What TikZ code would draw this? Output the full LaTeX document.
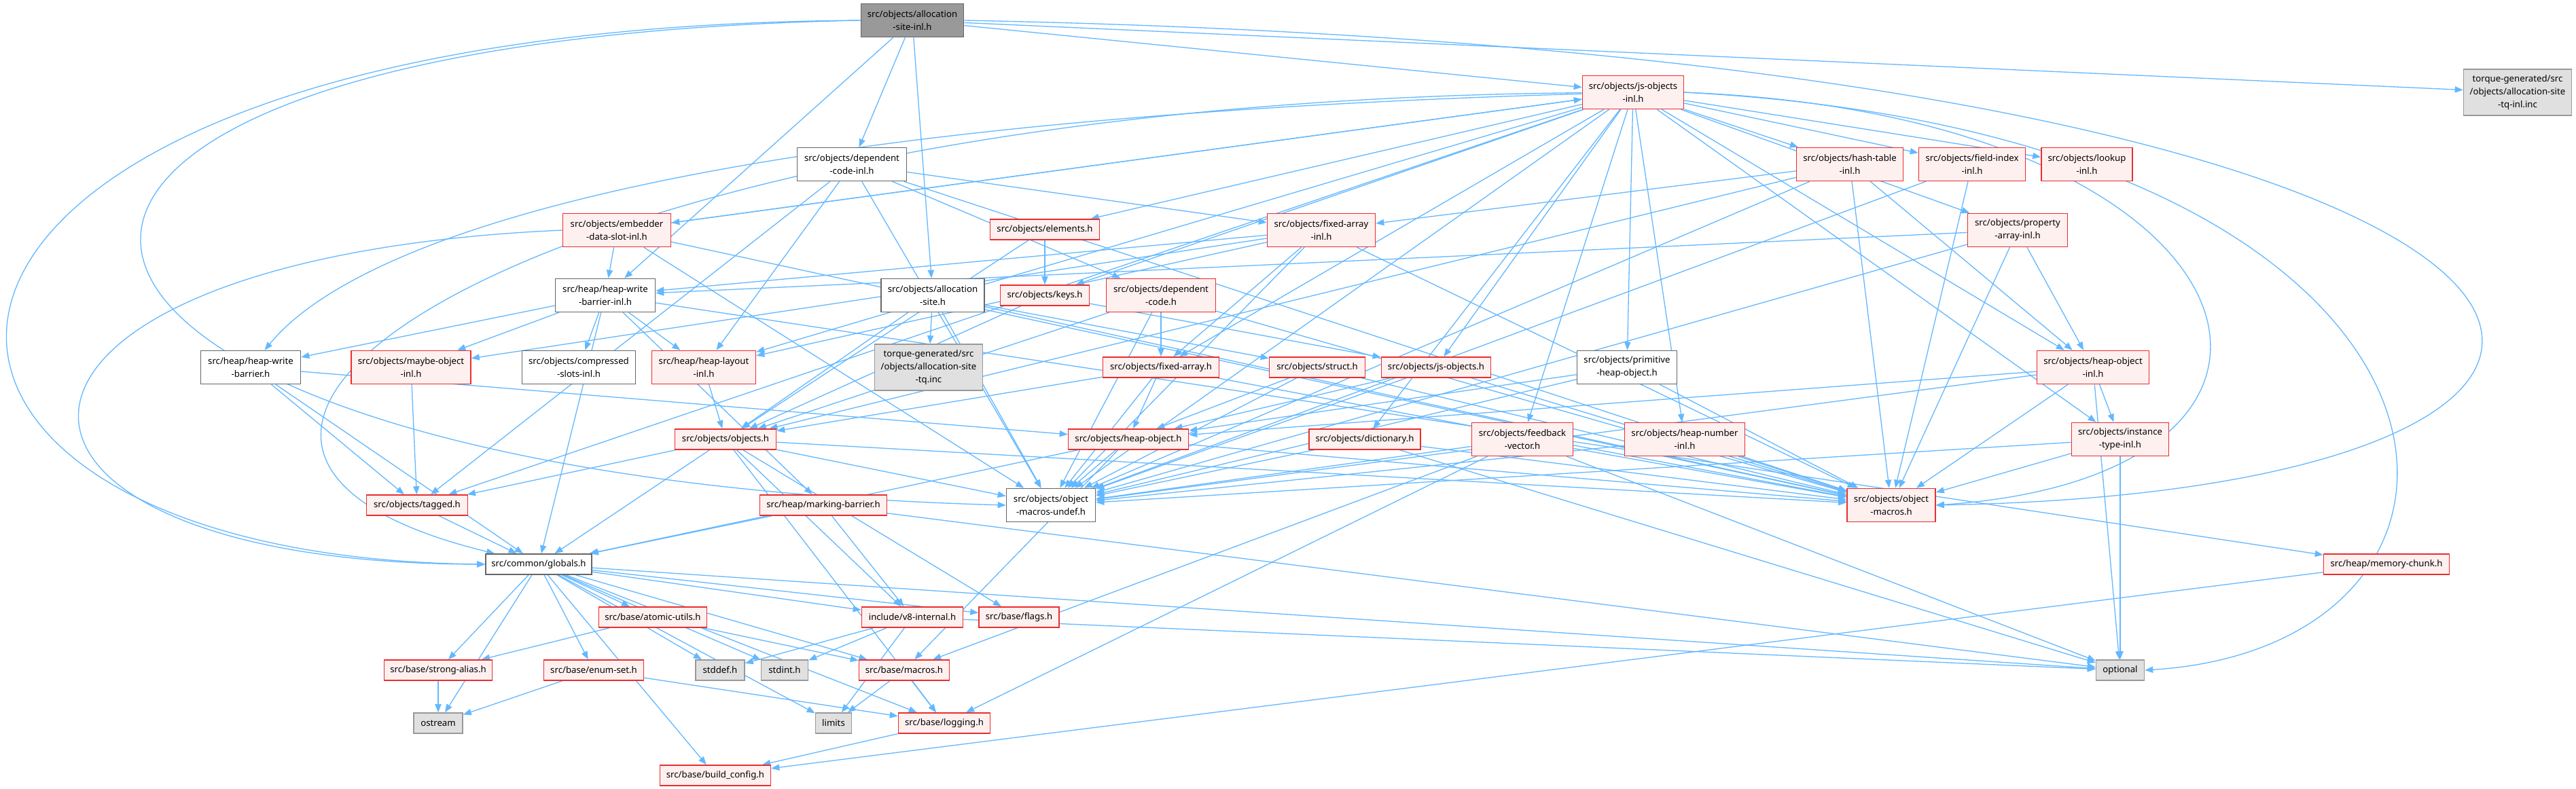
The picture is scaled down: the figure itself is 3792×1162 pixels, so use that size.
\documentclass[tikz,border=0pt]{standalone}
\usepackage{fontspec}
\setmainfont{Noto Sans}
\usetikzlibrary{arrows.meta,backgrounds}
\definecolor{edgeblue}{RGB}{99,184,255}
\definecolor{redline}{RGB}{235,45,45}
\definecolor{redfill}{RGB}{255,240,240}
\definecolor{rootfill}{RGB}{153,153,153}
\definecolor{greyline}{RGB}{102,102,102}
\definecolor{extfill}{RGB}{224,224,224}
\definecolor{extline}{RGB}{153,153,153}

\begin{document}
\begin{tikzpicture}[
  x=0.5pt, y=-0.5pt,
  font=\fontsize{6.6}{9.5}\selectfont,
  n/.style={draw, line width=0.8pt, align=center, inner xsep=2pt, inner ysep=0pt},
  l1/.style={minimum height=15pt},
  l2/.style={minimum height=24.5pt},
  l3/.style={minimum height=34pt},
  top/.style={n, draw=greyline, fill=rootfill},
  wt/.style={n, draw=greyline, fill=white},
  rd/.style={n, draw=redline, fill=redfill},
  ext/.style={n, draw=extline, fill=extfill},
  a/.style={-{Triangle[length=6pt,width=4.6pt]}, line width=0.65pt, draw=edgeblue}
]
\useasboundingbox (0,0) rectangle (3792,1162);

% top rows
\node[top, l2, minimum width=75.5pt] (root) at (1343,30) {src/objects/allocation\\-site-inl.h};
\node[rd, l2, minimum width=74.5pt] (jsoinl) at (2404,136) {src/objects/js-objects\\-inl.h};
\node[ext, l3, minimum width=79.5pt] (tqinl) at (3706,136) {torque-generated/src\\/objects/allocation-site\\-tq-inl.inc};
\node[wt, l2, minimum width=80.5pt] (depinl) at (1254,242) {src/objects/dependent\\-code-inl.h};
\node[rd, l2, minimum width=78.5pt] (hashinl) at (2723,242) {src/objects/hash-table\\-inl.h};
\node[rd, l2, minimum width=78.5pt] (fieldinl) at (2903,242) {src/objects/field-index\\-inl.h};
\node[rd, l2, minimum width=67pt] (lookupinl) at (3072,242) {src/objects/lookup\\-inl.h};
\node[rd, l2, minimum width=79.5pt] (edsinl) at (908,339) {src/objects/embedder\\-data-slot-inl.h};
\node[rd, l1, minimum width=80.5pt] (elements) at (1538,338) {src/objects/elements.h};
\node[rd, l2, minimum width=79.5pt] (fainl) at (1945,339) {src/objects/fixed-array\\-inl.h};
\node[rd, l2, minimum width=73.5pt] (painl) at (2970,339) {src/objects/property\\-array-inl.h};
\node[wt, l2, minimum width=73.5pt] (hwbinl) at (891,435) {src/heap/heap-write\\-barrier-inl.h};
\node[wt, l2, minimum width=76pt] (asite) at (1373,435) {src/objects/allocation\\-site.h};
\node[rd, l1, minimum width=65.5pt] (keys) at (1538,435) {src/objects/keys.h};
\node[rd, l2, minimum width=80.5pt] (depcode) at (1709,435) {src/objects/dependent\\-code.h};

% middle rows
\node[wt, l2, minimum width=73.5pt] (hwb) at (369,541) {src/heap/heap-write\\-barrier.h};
\node[rd, l2, minimum width=88pt] (moinl) at (605,541) {src/objects/maybe-object\\-inl.h};
\node[wt, l2, minimum width=83.5pt] (csinl) at (852,541) {src/objects/compressed\\-slots-inl.h};
\node[rd, l2, minimum width=76.5pt] (hlinl) at (1036,541) {src/heap/heap-layout\\-inl.h};
\node[ext, l3, minimum width=79.5pt] (tqinc) at (1367,541) {torque-generated/src\\/objects/allocation-site\\-tq.inc};
\node[rd, l1, minimum width=85.5pt] (fa) at (1709,541) {src/objects/fixed-array.h};
\node[rd, l1, minimum width=70.5pt] (struct) at (1939,541) {src/objects/struct.h};
\node[rd, l1, minimum width=80.5pt] (jso) at (2114,541) {src/objects/js-objects.h};
\node[wt, l2, minimum width=73.5pt] (phobj) at (2395,541) {src/objects/primitive\\-heap-object.h};
\node[rd, l2, minimum width=82.5pt] (hoinl) at (3081,541) {src/objects/heap-object\\-inl.h};
\node[rd, l1, minimum width=74.5pt] (objects) at (1068,647) {src/objects/objects.h};
\node[rd, l1, minimum width=88.5pt] (hobj) at (1661,647) {src/objects/heap-object.h};
\node[rd, l1, minimum width=82pt] (dict) at (2009,647) {src/objects/dictionary.h};
\node[rd, l2, minimum width=74.5pt] (fbv) at (2241,647) {src/objects/feedback\\-vector.h};
\node[rd, l2, minimum width=88.5pt] (hninl) at (2480,647) {src/objects/heap-number\\-inl.h};
\node[rd, l2, minimum width=71.5pt] (itinl) at (3121,647) {src/objects/instance\\-type-inl.h};
\node[rd, l1, minimum width=74.5pt] (tagged) at (614,744) {src/objects/tagged.h};
\node[rd, l1, minimum width=93.5pt] (mbar) at (1212,744) {src/heap/marking-barrier.h};
\node[wt, l2, minimum width=65.5pt] (undef) at (1547,744) {src/objects/object\\-macros-undef.h};
\node[rd, l2, minimum width=65pt] (omac) at (2784,744) {src/objects/object\\-macros.h};

% base rows
\node[wt, l1, minimum width=78pt] (globals) at (793,831) {src/common/globals.h};
\node[rd, l1, minimum width=92.5pt] (mchunk) at (3513,831) {src/heap/memory-chunk.h};
\node[rd, l1, minimum width=79.5pt] (atomic) at (961,909) {src/base/atomic-utils.h};
\node[rd, l1, minimum width=74.5pt] (v8int) at (1343,909) {include/v8-internal.h};
\node[rd, l1, minimum width=59pt] (flags) at (1500,909) {src/base/flags.h};
\node[rd, l1, minimum width=79.5pt] (salias) at (645,987) {src/base/strong-alias.h};
\node[rd, l1, minimum width=73.5pt] (enumset) at (874,987) {src/base/enum-set.h};
\node[ext, l1, minimum width=36pt] (stddef) at (1060,987) {stddef.h};
\node[ext, l1, minimum width=34.5pt] (stdint) at (1155,987) {stdint.h};
\node[rd, l1, minimum width=66.5pt] (macros) at (1331,987) {src/base/macros.h};
\node[ext, l1, minimum width=35.5pt] (optional) at (3121,987) {optional};
\node[ext, l1, minimum width=36pt] (ostream) at (645,1065) {ostream};
\node[ext, l1, minimum width=26.5pt] (limits) at (1227,1065) {limits};
\node[rd, l1, minimum width=67.5pt] (logging) at (1390,1065) {src/base/logging.h};
\node[rd, l1, minimum width=81.5pt] (buildcfg) at (1053,1142) {src/base/build\_config.h};

\begin{scope}[on background layer]
\fill[white] (0,0) rectangle (3792,1162);
% root
\draw[a] (root.west) .. controls (-300,40) and (-300,820) .. (globals.west);
\draw[a] (root.west) .. controls (-250,60) and (-100,700) .. (undef.west);
\draw[a] (root) -- (hwbinl);
\draw[a] (root) -- (depinl);
\draw[a] (root) -- (asite);
\draw[a] (root) -- (jsoinl);
\draw[a] (root) -- (tqinl);
\draw[a] (root.east) .. controls (4000,80) and (4150,720) .. (omac.east);
% js-objects-inl
\draw[a] (jsoinl) .. controls (800,150) and (50,650) .. (globals);
\draw[a] (jsoinl) .. controls (900,180) and (500,380) .. (hwb);
\draw[a] (jsoinl) -- (edsinl);
\draw[a] (jsoinl) -- (elements);
\draw[a] (jsoinl) -- (keys);
\draw[a] (jsoinl) -- (fa);
\draw[a] (jsoinl) -- (jso);
\draw[a] (jsoinl) -- (phobj);
\draw[a] (jsoinl) -- (hashinl);
\draw[a] (jsoinl) -- (fieldinl);
\draw[a] (jsoinl) -- (lookupinl);
\draw[a] (jsoinl) -- (painl);
\draw[a] (jsoinl) -- (hoinl);
\draw[a] (jsoinl) -- (itinl);
\draw[a] (jsoinl) -- (hninl);
\draw[a] (jsoinl) -- (fbv);
\draw[a] (jsoinl) -- (dict);
\draw[a] (jsoinl.east) .. controls (3350,170) and (3500,700) .. (omac.east);
\draw[a] (jsoinl) -- (undef);
\draw[a] (jsoinl.east) .. controls (3700,200) and (3750,950) .. (optional.east);
\draw[a] (jsoinl) -- (hlinl);
\draw[a] (jsoinl) -- (tagged);
% embedder-data-slot-inl
\draw[a] (edsinl) -- (jsoinl);
\draw[a] (edsinl) -- (hwbinl);
\draw[a] (edsinl.west) .. controls (-100,380) and (-100,830) .. (globals.west);
\draw[a] (edsinl) -- (omac);
\draw[a] (edsinl) -- (undef);
% dependent-code-inl
\draw[a] (depinl) -- (depcode);
\draw[a] (depinl) -- (fainl);
\draw[a] (depinl) -- (hlinl);
\draw[a] (depinl) -- (tagged);
\draw[a] (depinl) -- (omac);
\draw[a] (depinl) -- (undef);
% hash-table-inl, field-index-inl, property-array-inl
\draw[a] (hashinl) -- (fainl);
\draw[a] (hashinl) -- (hoinl);
\draw[a] (hashinl) -- (objects);
\draw[a] (hashinl) -- (omac);
\draw[a] (hashinl) -- (undef);
\draw[a] (fieldinl) -- (omac);
\draw[a] (fieldinl) -- (undef);
\draw[a] (painl) -- (hoinl);
\draw[a] (painl) -- (hwbinl);
\draw[a] (painl) -- (omac);
\draw[a] (painl) -- (undef);
% heap-object-inl, instance-type-inl, heap-number-inl
\draw[a] (hoinl) -- (hobj);
\draw[a] (hoinl) -- (itinl);
\draw[a] (hoinl) -- (omac);
\draw[a] (hoinl) -- (undef);
\draw[a] (hoinl) -- (optional);
\draw[a] (itinl) -- (optional);
\draw[a] (itinl) -- (omac);
\draw[a] (itinl) -- (undef);
\draw[a] (hninl) -- (omac);
\draw[a] (hninl) -- (undef);
% feedback-vector, dictionary
\draw[a] (fbv) -- (logging);
\draw[a] (fbv) -- (macros);
\draw[a] (fbv) -- (optional);
\draw[a] (fbv) -- (omac);
\draw[a] (fbv) -- (undef);
\draw[a] (dict) -- (optional);
\draw[a] (dict) -- (omac);
\draw[a] (dict) -- (undef);
% fixed-array-inl
\draw[a] (fainl) -- (fa);
\draw[a] (fainl) -- (hwbinl);
\draw[a] (fainl) -- (moinl);
\draw[a] (fainl) -- (hlinl);
\draw[a] (fainl) -- (omac);
\draw[a] (fainl) -- (undef);
% heap-write-barrier-inl
\draw[a] (hwbinl) -- (hwb);
\draw[a] (hwbinl) -- (moinl);
\draw[a] (hwbinl) -- (csinl);
\draw[a] (hwbinl) -- (hlinl);
\draw[a] (hwbinl) -- (mbar);
\draw[a] (hwbinl) -- (mchunk);
\draw[a] (hwbinl) -- (globals);
\draw[a] (hwb) -- (globals);
\draw[a] (hwb) -- (hobj);
\draw[a] (hwb) -- (tagged);
\draw[a] (moinl) -- (tagged);
\draw[a] (hlinl) -- (objects);
% elements, keys, allocation-site, dependent-code
\draw[a] (elements) -- (keys);
\draw[a] (elements) -- (objects);
\draw[a] (keys) -- (jso);
\draw[a] (keys) -- (objects);
\draw[a] (asite) -- (tqinc);
\draw[a] (asite) -- (struct);
\draw[a] (asite) -- (objects);
\draw[a] (asite) -- (omac);
\draw[a] (asite) -- (undef);
\draw[a] (depcode) -- (fa);
\draw[a] (depcode) -- (objects);
\draw[a] (depcode) -- (omac);
\draw[a] (depcode) -- (undef);
% fixed-array, struct, js-objects, primitive-heap-object
\draw[a] (fa) -- (hobj);
\draw[a] (fa) -- (objects);
\draw[a] (fa) -- (omac);
\draw[a] (fa) -- (undef);
\draw[a] (struct) -- (hobj);
\draw[a] (struct) -- (omac);
\draw[a] (struct) -- (undef);
\draw[a] (jso) -- (hobj);
\draw[a] (jso) -- (omac);
\draw[a] (jso) -- (undef);
\draw[a] (phobj) -- (hobj);
\draw[a] (phobj) -- (omac);
\draw[a] (phobj) -- (undef);
% objects, heap-object, tagged, marking-barrier
\draw[a] (objects) -- (globals);
\draw[a] (objects) -- (tagged);
\draw[a] (objects) -- (v8int);
\draw[a] (objects) -- (flags);
\draw[a] (objects) -- (logging);
\draw[a] (objects) -- (omac);
\draw[a] (objects) -- (undef);
\draw[a] (hobj) -- (globals);
\draw[a] (hobj) -- (macros);
\draw[a] (hobj) -- (omac);
\draw[a] (hobj) -- (undef);
\draw[a] (tagged) -- (globals);
\draw[a] (mbar) -- (globals);
\draw[a] (mbar) -- (v8int);
\draw[a] (mbar) -- (optional);
% globals and base headers
\draw[a] (globals) -- (atomic);
\draw[a] (globals) -- (salias);
\draw[a] (globals) -- (enumset);
\draw[a] (globals) -- (stddef);
\draw[a] (globals) -- (stdint);
\draw[a] (globals) -- (macros);
\draw[a] (globals) -- (limits);
\draw[a] (globals) -- (logging);
\draw[a] (globals) -- (ostream);
\draw[a] (globals) -- (v8int);
\draw[a] (globals) -- (flags);
\draw[a] (globals) -- (buildcfg);
\draw[a] (globals) -- (optional);
\draw[a] (atomic) -- (salias);
\draw[a] (atomic) -- (macros);
\draw[a] (v8int) -- (stddef);
\draw[a] (v8int) -- (stdint);
\draw[a] (v8int) -- (limits);
\draw[a] (v8int) -- (optional);
\draw[a] (salias) -- (ostream);
\draw[a] (enumset) -- (ostream);
\draw[a] (enumset) -- (logging);
\draw[a] (macros) -- (limits);
\draw[a] (macros) -- (logging);
\draw[a] (logging) -- (buildcfg);
\draw[a] (mchunk) -- (buildcfg);
\end{scope}
\end{tikzpicture}
\end{document}
